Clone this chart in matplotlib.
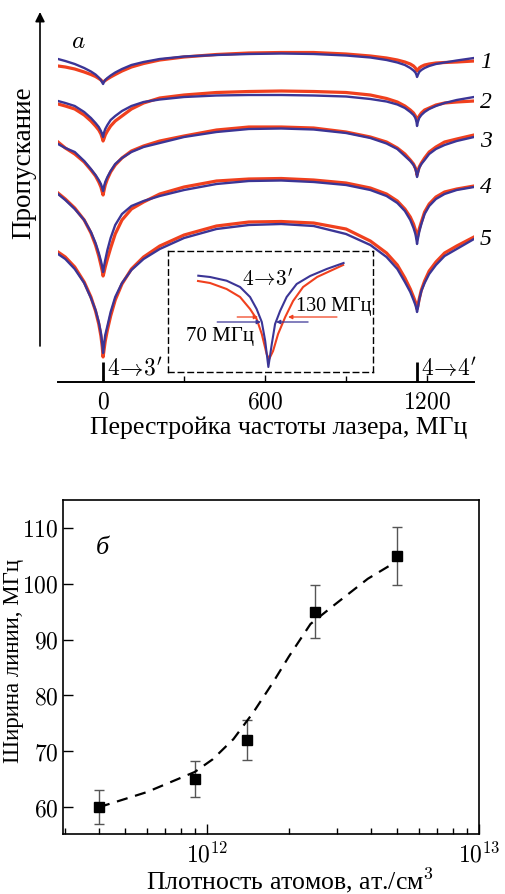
import numpy as np
import matplotlib
matplotlib.use("Agg")
import matplotlib.pyplot as plt

plt.rcParams['font.family'] = ['Liberation Serif', 'DejaVu Serif']
plt.rcParams['mathtext.fontset'] = 'cm'

# --- panel a: transmission spectra (read as depth below the top edge, arb. units) ---
freq = [-167, -140, -105, -70, -45, -28, -16, -8, -3, 0,
        3, 8, 16, 28, 45, 70, 105, 150, 210, 300,
        420, 540, 660, 780, 900, 990, 1050, 1090, 1118, 1138,
        1150, 1157, 1161, 1163, 1166, 1171, 1179, 1191, 1208, 1233,
        1265, 1310, 1374]

fit1 = [60, 62, 65, 69, 72.5, 75.5, 78.5, 81, 83.5, 85,
        83, 81, 79, 76.5, 73.5, 70, 66, 63, 60, 57.5,
        56, 55, 54.5, 55, 56.5, 58.5, 61, 63.5, 66, 69,
        71.5, 73.5, 76, 78, 76, 73, 71, 69, 67, 65,
        63.5, 61.5, 59]
exp1 = [67, 68, 70, 73, 75.5, 77.5, 79.5, 81, 82.5, 83,
        82.5, 81.5, 80, 78, 75.5, 72, 68, 64.5, 61, 58,
        55.5, 54, 53.5, 53.5, 55, 57, 59, 61, 63, 65,
        67, 69, 71, 72, 71, 69, 67.5, 66, 65, 64,
        63.5, 63, 62]
fit2 = [102, 104, 107, 113, 119, 124, 128, 132, 135.5, 138,
        134, 130, 126, 121, 117, 112, 107, 103, 100.5, 98,
        96.5, 96, 96, 96.5, 97.5, 100, 102.5, 105.5, 109, 113,
        116, 119, 123, 127, 123, 119, 116, 113, 110, 107,
        104, 101, 98]
exp2 = [105, 107, 110, 116, 122, 127, 131, 135, 139, 142,
        140, 136, 132, 127, 122, 117, 110, 104, 99, 96,
        93.5, 92.5, 92, 92.5, 93.5, 96, 99.5, 103, 107, 111,
        114, 117, 120, 122, 120, 117, 114, 111, 109, 106,
        104, 103, 102]
fit3 = [145, 149, 153, 162, 170, 176, 181, 185, 189, 192,
        188, 183, 178, 172, 165, 159, 153, 148, 144, 138,
        133, 130, 129.5, 130.5, 134, 139, 144.5, 150, 157, 162,
        166, 170, 174, 178, 174, 169, 165, 161, 155, 150,
        146, 142, 138]
exp3 = [143, 149, 155, 163, 171, 177, 183, 188, 193, 196,
        192, 186, 180, 173, 166, 159, 152, 147, 142, 137,
        131, 128, 128, 129, 133, 138, 143, 149, 155, 161,
        165, 169, 173, 176, 173, 168, 164, 159, 153, 148,
        143, 140, 136]
fit4 = [195, 201, 210, 221, 233, 244, 254, 262, 268, 273,
        268, 261, 251, 239, 226, 215, 207, 202, 197, 191,
        185, 182, 181.5, 183, 186, 191, 197, 204, 212, 221,
        229, 235, 241, 245, 240, 233, 225, 215, 207, 200,
        195, 191, 188]
exp4 = [194, 200, 209, 221, 234, 246, 257, 266, 272, 277,
        274, 268, 260, 249, 235, 221, 210, 203, 195, 188,
        182, 180, 179.5, 181, 184, 189, 195, 202, 210, 218,
        225, 231, 236, 240, 236, 230, 223, 213, 205, 198,
        193, 190, 187]
fit5 = [255, 260, 270, 284, 299, 311, 323, 334, 345, 354,
        346, 336, 327, 313, 298, 284, 271, 260, 250, 239,
        230, 226, 225, 227, 235, 246, 258, 270, 283, 293,
        301, 306, 310, 313, 309, 301, 292, 284, 275, 266,
        257, 250, 240]
exp5 = [253, 258, 268, 283, 298, 312, 325, 337, 348, 358,
        352, 342, 331, 317, 301, 285, 270, 258, 247, 236,
        227, 223, 222.5, 224, 230, 242, 254, 266, 279, 290,
        298, 303, 307, 310, 307, 300, 291, 282, 272, 263,
        254, 247, 238]

fits = [fit1, fit2, fit3, fit4, fit5]
exps = [exp1, exp2, exp3, exp4, exp5]
trace_labels = ['1', '2', '3', '4', '5']
trace_label_pos = [62, 103, 142, 188, 240]

transitions = [0, 1163]
transition_labels = [r"$4\!\rightarrow\!3'$", r"$4\!\rightarrow\!4'$"]

# inset: 4->3' line, zoomed
ins_f_fit = [-244, -203, -145, -98, -63, -40, -22, -10, 1, 13, 24.5, 42, 65, 100,
             147, 205, 264]
ins_fit = [276.7, 278, 281.7, 288, 298, 310, 323, 342, 368, 345, 325, 312, 298,
           285, 277, 270, 264]
ins_f_exp = [-245, -203, -145, -98, -63, -40, -22, -5, 4, 17.5, 35, 60, 87.5, 122.5,
             171.5, 217, 262.5]
ins_exp = [282, 284, 290, 298, 310, 320, 335, 355, 360, 352, 335, 318, 302, 288,
           278, 272, 266]

# --- panel b: linewidth vs atom density ---
density = [4.0e11, 9.0e11, 1.4e12, 2.5e12, 5.0e12]
width = [60, 65, 72, 95, 105]
width_err = [3.0, 3.2, 3.6, 4.7, 5.2]
dens_fit = [4.0e11, 6.0e11, 9.0e11, 1.05e12, 1.25e12, 1.48e12, 1.75e12, 2.0e12,
            2.4e12, 2.9e12, 3.9e12, 4.9e12]
width_fit = [60.0, 62.7, 66.3, 68.6, 72.2, 77.0, 82.4, 87.0, 92.8, 96.0, 100.9, 103.8]

RED = '#f0401e'
BLUE = '#3b3596'

W, H = 506, 895
fig = plt.figure(figsize=(W / 100, H / 100), dpi=100)


def px_axes(x0, y0, x1, y1):
    return fig.add_axes([x0 / W, 1 - y1 / H, (x1 - x0) / W, (y1 - y0) / H])


# panel a
ax = px_axes(58, 0, 474, 383)
for f, e in zip(fits, exps):
    ax.plot(freq, e, color=RED, lw=2.3, solid_joinstyle='round')
    ax.plot(freq, f, color=BLUE, lw=1.7, solid_joinstyle='round')
ax.set_xlim(-167, 1374)
ax.set_ylim(383, 0)
for s in ['top', 'right', 'left']:
    ax.spines[s].set_visible(False)
ax.spines['bottom'].set_linewidth(1.4)
ax.set_yticks([])
ax.set_xticks([0, 600, 1200])
ax.set_xticks([300, 900], minor=True)
ax.set_xticklabels(['$0$', '$600$', '$1200$'], fontsize=17)
ax.tick_params(axis='x', which='major', direction='in', length=5, width=1, pad=7)
ax.tick_params(axis='x', which='minor', direction='in', length=4, width=1)
fig.text(279 / W, 1 - 428 / H, 'Перестройка частоты лазера, МГц', fontsize=18.5,
         ha='center', va='center')
ax.vlines(transitions, 363, 383, color='black', lw=2)
for t, lab in zip(transitions, transition_labels):
    ax.text(t + 16, 369, lab, fontsize=17, va='center', ha='left')
for lab, yp in zip(trace_labels, trace_label_pos):
    ax.text(1395, yp, lab, fontsize=17, style='italic', va='center', ha='left',
            clip_on=False)
ax.text(-93, 42, '$a$', fontsize=18, va='center', ha='center')

# y arrow
ax.annotate('', xy=(40, H - 13), xytext=(40, H - 347), xycoords='figure pixels',
            textcoords='figure pixels',
            arrowprops=dict(arrowstyle='-|>', color='black', lw=1.2,
                            mutation_scale=14, shrinkA=0, shrinkB=0))
fig.text(24 / W, 1 - 163 / H, 'Пропускание', rotation=90, fontsize=19.5,
         ha='center', va='center')

# inset
axi = px_axes(168, 252, 373, 373)
axi.plot(ins_f_exp, ins_exp, color=RED, lw=1.5)
axi.plot(ins_f_fit, ins_fit, color=BLUE, lw=1.5)
axi.set_xlim(-350, 367)
axi.set_ylim(373, 252)
axi.set_xticks([])
axi.set_yticks([])
axi.patch.set_alpha(0)
for s in axi.spines.values():
    s.set_linestyle((0, (4, 3)))
    s.set_linewidth(1.0)
# width markers
arrow = dict(arrowstyle='-|>', lw=0.9, mutation_scale=6, shrinkA=0, shrinkB=0)
axi.annotate('', xy=(-35, 318), xytext=(-108, 318), arrowprops=dict(arrow, color=RED))
axi.annotate('', xy=(70, 318), xytext=(241, 318), arrowprops=dict(arrow, color=RED))
axi.annotate('', xy=(-25, 323), xytext=(-178, 323), arrowprops=dict(arrow, color=BLUE))
axi.annotate('', xy=(28, 323), xytext=(140, 323), arrowprops=dict(arrow, color=BLUE))
axi.text(-168, 337, '70 МГц', fontsize=15, ha='center', va='center')
axi.text(231, 307, '130 МГц', fontsize=14.5, ha='center', va='center')
axi.text(-3, 280, r"$4\!\rightarrow\!3'$", fontsize=15.5, ha='center', va='center')

# panel b
ax2 = px_axes(63, 501, 479, 835)
ax2.errorbar(density, width, yerr=width_err, fmt='none', ecolor='#555555',
             elinewidth=1.0, capsize=3.5, capthick=1.0)
ax2.plot(dens_fit, width_fit, color='black', lw=1.6, ls=(0, (5, 3.5)))
ax2.plot(density, width, 's', color='black', ms=6.5)
ax2.set_xscale('log')
ax2.set_xlim(2.95e11, 1.0e13)
ax2.set_ylim(55.2, 115)
ax2.set_xticks([1e12, 1e13])
ax2.set_xticklabels([r'$10^{12}$', r'$10^{13}$'], fontsize=17)
ax2.set_yticks([60, 70, 80, 90, 100, 110])
ax2.set_yticklabels(['$%d$' % v for v in [60, 70, 80, 90, 100, 110]], fontsize=17)
ax2.tick_params(axis='both', which='major', direction='in', length=7, width=1,
                top=False, right=False)
ax2.tick_params(axis='x', which='minor', direction='in', length=4, width=1,
                top=False)
ax2.tick_params(axis='x', which='major', pad=5)
for s in ax2.spines.values():
    s.set_linewidth(1.2)
fig.text(290 / W, 1 - 880 / H, 'Плотность атомов, ат./см$^3$', fontsize=18.5,
         ha='center', va='center')
fig.text(14 / W, 1 - 661 / H, 'Ширина линии, МГц', rotation=90, fontsize=16.5,
         ha='center', va='center')
ax2.text(0.095, 0.86, 'б', transform=ax2.transAxes, fontsize=19, style='italic',
         ha='center', va='center')

fig.savefig('out.png', dpi=100)
